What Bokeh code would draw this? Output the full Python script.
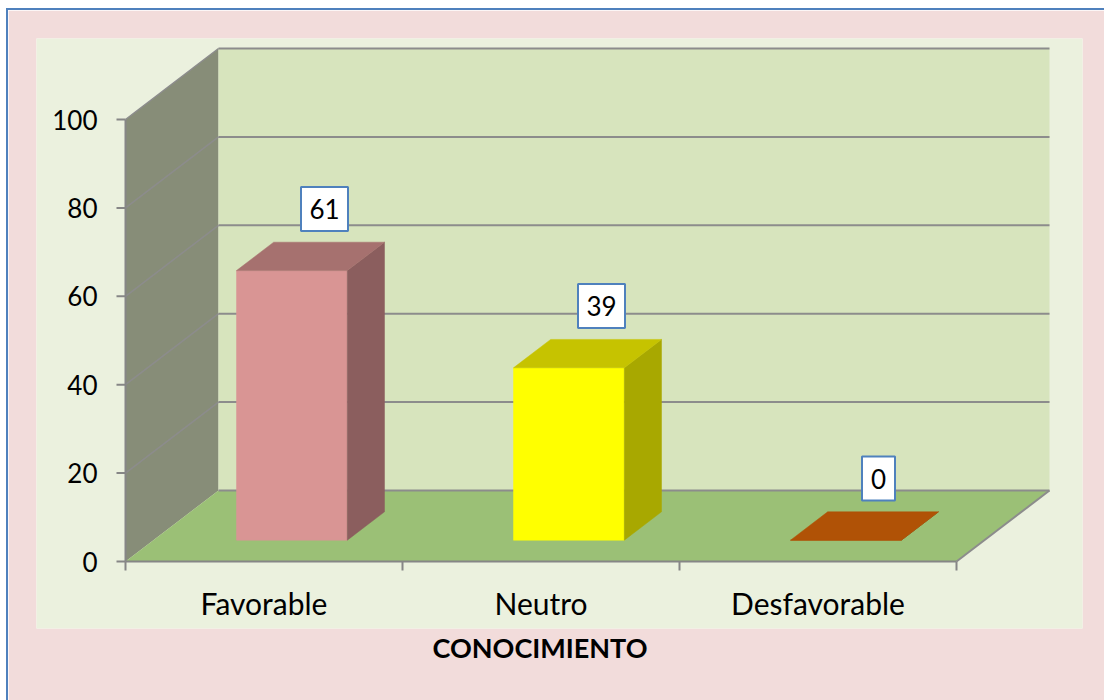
from bokeh.plotting import figure
from bokeh.models import Range1d, Title, Spacer
from bokeh.layouts import column, row
from bokeh.embed import file_html
from bokeh.resources import INLINE
from bokeh.core.properties import value

# ---- data ----
categories = ["Favorable", "Neutro", "Desfavorable"]
values = [61, 39, 0]
y_ticks = [0, 20, 40, 60, 80, 100]
x_title = "CONOCIMIENTO"

# ---- styles ----
front_colors = ["#D99594", "#FFFF00", "#B05206"]
top_colors = ["#A6716F", "#C6C300", "#B05206"]
side_colors = ["#8B5E5E", "#A8A800", "#8A4008"]
PINK = "#F2DCDB"
PANEL = "#EBF1DE"
BACK_WALL = "#D7E4BD"
SIDE_WALL = "#878D78"
FLOOR = "#9BC076"
GRID = "#8C8C8C"
AXIS = "#868686"
BLUE = "#4F81BD"
FONT = "Lato"

PX_X = 277.0      # pixels per category
PX_Y = 4.42       # pixels per value unit
DX = 93 / PX_X    # depth offset (x, category units)
DY = 71 / PX_Y    # depth offset (y, value units)
BAR_W = 0.4
D0, D1 = 0.30, 0.70
X0, X1 = -0.5, len(categories) - 0.5
YMAX = y_ticks[-1]

# frame = light inner panel
x_lo = X0 - 89 / PX_X
x_hi = X0 + 957 / PX_X
y_lo = -67 / PX_Y
y_hi = 523 / PX_Y

FW, FH = 1096, 690
p = figure(width=FW, height=FH, output_backend="svg", toolbar_location=None,
           x_range=Range1d(x_lo, x_hi), y_range=Range1d(y_lo, y_hi),
           x_axis_location=None, y_axis_location=None,
           min_border_left=28, min_border_right=22, min_border_top=28, min_border_bottom=72)
p.background_fill_color = PANEL
p.border_fill_color = PINK
p.outline_line_color = None
p.grid.visible = False


def proj(c, v, d):
    return c + d * DX, v + d * DY


# walls and floor
side = [proj(X0, 0, 0), proj(X0, YMAX, 0), proj(X0, YMAX, 1), proj(X0, 0, 1)]
back = [proj(X0, 0, 1), proj(X0, YMAX, 1), proj(X1, YMAX, 1), proj(X1, 0, 1)]
floor = [proj(X0, 0, 0), proj(X1, 0, 0), proj(X1, 0, 1), proj(X0, 0, 1)]
p.patches(xs=[[q[0] for q in side], [q[0] for q in back], [q[0] for q in floor]],
          ys=[[q[1] for q in side], [q[1] for q in back], [q[1] for q in floor]],
          fill_color=[SIDE_WALL, BACK_WALL, FLOOR], line_color=None)

# gridlines on back wall and side wall
gx0, gy0, gx1, gy1 = [], [], [], []
for t in y_ticks:
    a, b = proj(X0, t, 1), proj(X1, t, 1)
    gx0.append(a[0]); gy0.append(a[1]); gx1.append(b[0]); gy1.append(b[1])
p.segment(gx0, gy0, gx1, gy1, line_color=GRID, line_width=2)
dx0, dy0, dx1, dy1 = [], [], [], []
for t in y_ticks[1:]:
    a, b = proj(X0, t, 0), proj(X0, t, 1)
    dx0.append(a[0]); dy0.append(a[1]); dx1.append(b[0]); dy1.append(b[1])
p.segment(dx0, dy0, dx1, dy1, line_color=GRID, line_width=1.5)
fa, fb = proj(X1, 0, 0), proj(X1, 0, 1)
p.segment([fa[0]], [fa[1]], [fb[0]], [fb[1]], line_color=GRID, line_width=2)

# 3D bars
fxs, fys, fcol = [], [], []
for i, v in enumerate(values):
    L, R = i - BAR_W / 2, i + BAR_W / 2
    front = [proj(L, 0, D0), proj(R, 0, D0), proj(R, v, D0), proj(L, v, D0)]
    sidef = [proj(R, 0, D0), proj(R, 0, D1), proj(R, v, D1), proj(R, v, D0)]
    top = [proj(L, v, D0), proj(R, v, D0), proj(R, v, D1), proj(L, v, D1)]
    for poly, col in ((front, front_colors[i]), (sidef, side_colors[i]), (top, top_colors[i])):
        fxs.append([q[0] for q in poly]); fys.append([q[1] for q in poly]); fcol.append(col)
p.patches(xs=fxs, ys=fys, fill_color=fcol, line_color=fcol, line_width=0.5)

# data labels
lx = [proj(i, v, 0.5)[0] + 14 / PX_X for i, v in enumerate(values)]
ly = [proj(i, v, 0.5)[1] + 47.5 / PX_Y for i, v in enumerate(values)]
ltxt = [str(v) for v in values]
lw = [19 + 14 * len(t) for t in ltxt]
p.rect(lx, ly, width=lw, height=[44] * len(values), width_units="screen", height_units="screen",
       fill_color="white", line_color=BLUE, line_width=2)
p.text(lx, ly, text=ltxt, text_align="center", text_baseline="middle",
       text_font=value(FONT), text_font_size="26px", text_color="black")

# value axis (front-left edge)
p.segment([X0], [0], [X0], [YMAX], line_color=AXIS, line_width=2)
p.segment([X0 - 9 / PX_X] * len(y_ticks), y_ticks, [X0] * len(y_ticks), y_ticks,
          line_color=AXIS, line_width=2)
p.text([X0 - 28 / PX_X] * len(y_ticks), y_ticks,
       text=[str(t) for t in y_ticks], text_align="right", text_baseline="middle",
       text_font=value(FONT), text_font_size="26px", text_color="black")

# category axis (front-bottom edge)
bounds = [i - 0.5 for i in range(len(categories) + 1)]
p.segment([X0], [0], [X1], [0], line_color=AXIS, line_width=2)
p.segment(bounds, [0] * len(bounds), bounds, [-9 / PX_Y] * len(bounds), line_color=AXIS, line_width=2)
p.text(list(range(len(categories))), [-41 / PX_Y] * len(categories), text=categories,
       text_align="center", text_baseline="middle",
       text_font=value(FONT), text_font_size="30px", text_color="black")

# axis title below the panel
p.add_layout(Title(text=x_title, align="left", offset=432 - 36, standoff=0,
                   text_font=FONT, text_font_size="27px", text_font_style="bold",
                   text_color="black"), "below")

layout = column(
    Spacer(width=1104, height=8),
    row(Spacer(width=6, height=692),
        column(Spacer(width=1098, height=2, styles={"background-color": BLUE}),
               row(Spacer(width=2, height=FH, styles={"background-color": BLUE}), p))),
)

open("out.html", "w").write(file_html(layout, INLINE))
